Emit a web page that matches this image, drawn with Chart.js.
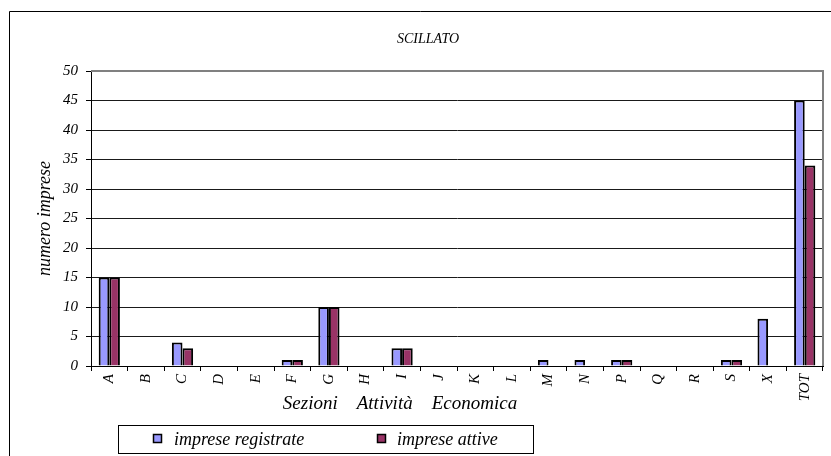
<!DOCTYPE html>
<html>
<head>
<meta charset="utf-8">
<style>
  html, body { margin: 0; padding: 0; background: #fff; }
  canvas { display: block; }
</style>
<script src="https://cdn.jsdelivr.net/npm/chart.js@4/dist/chart.umd.min.js"></script>
</head>
<body>
<canvas id="c" width="831" height="456"></canvas>
<script>
const chartTitle = 'SCILLATO';
const xAxisTitle = 'Sezioni    Attività    Economica';
const yAxisTitle = 'numero imprese';
const categories = ['A','B','C','D','E','F','G','H','I','J','K','L','M','N','P','Q','R','S','X','TOT'];
const seriesNames = ['imprese registrate', 'imprese attive'];
const registrate = [15,0,4,0,0,1,10,0,3,0,0,0,1,1,1,0,0,1,8,45];
const attive     = [15,0,3,0,0,1,10,0,3,0,0,0,0,0,1,0,0,1,0,34];
const yTicks = [0,5,10,15,20,25,30,35,40,45,50];
const colors = ['#9999FF', '#993366'];

const FONT = '"Liberation Serif", "Times New Roman", serif';

const decor = {
  id: 'decor',
  beforeDraw(chart) {
    const ctx = chart.ctx;
    ctx.save();
    ctx.fillStyle = '#fff';
    ctx.fillRect(0, 0, chart.width, chart.height);
    ctx.strokeStyle = '#000';
    ctx.lineWidth = 1;
    ctx.beginPath();
    ctx.moveTo(9.5, 456);
    ctx.lineTo(9.5, 11.5);
    ctx.lineTo(831, 11.5);
    ctx.stroke();
    ctx.restore();
  },
  afterDraw(chart) {
    const ctx = chart.ctx;
    const a = chart.chartArea;
    ctx.save();
    // plot area top/right border
    ctx.strokeStyle = '#808080';
    ctx.lineWidth = 2;
    ctx.beginPath();
    ctx.moveTo(a.left, a.top);
    ctx.lineTo(a.right, a.top);
    ctx.lineTo(a.right, a.bottom);
    ctx.stroke();
    // title
    ctx.fillStyle = '#000';
    ctx.font = 'italic 14px ' + FONT;
    ctx.textAlign = 'center';
    ctx.textBaseline = 'middle';
    ctx.fillText(chartTitle, 428, 39);
    // x axis title
    ctx.font = 'italic 19px ' + FONT;
    ctx.fillText(xAxisTitle, 400, 404);
    // legend
    ctx.fillStyle = '#fff';
    ctx.fillRect(118.5, 425.5, 415, 28);
    ctx.strokeStyle = '#000';
    ctx.lineWidth = 1;
    ctx.strokeRect(118.5, 425.5, 415, 28);
    const items = chart.data.datasets;
    const boxX = [153, 377];
    const textX = [174, 397];
    ctx.font = 'italic 18px ' + FONT;
    ctx.textAlign = 'left';
    items.forEach((ds, i) => {
      ctx.fillStyle = ds.backgroundColor;
      ctx.fillRect(boxX[i] + 0.5, 434.5, 8, 8);
      ctx.strokeStyle = '#000';
      ctx.lineWidth = 1.5;
      ctx.strokeRect(boxX[i] + 0.5, 434.5, 8, 8);
      ctx.fillStyle = '#000';
      ctx.fillText(ds.label, textX[i], 440);
    });
    ctx.restore();
  }
};

new Chart(document.getElementById('c'), {
  type: 'bar',
  data: {
    labels: categories,
    datasets: [
      { label: seriesNames[0], data: registrate, backgroundColor: colors[0], borderColor: '#000', borderWidth: 2 },
      { label: seriesNames[1], data: attive, backgroundColor: colors[1], borderColor: '#000', borderWidth: 2 }
    ]
  },
  options: {
    responsive: false,
    devicePixelRatio: 1,
    animation: false,
    categoryPercentage: 0.58,
    barPercentage: 1,
    layout: { padding: { top: 71, right: 8, left: 0, bottom: 0 } },
    plugins: {
      legend: { display: false },
      title: { display: false },
      tooltip: { enabled: false }
    },
    scales: {
      x: {
        afterFit(scale) { scale.height = 90; },
        grid: { offset: true, drawOnChartArea: false, color: '#000', tickLength: 5, tickColor: '#000' },
        border: { color: '#000', width: 1 },
        ticks: {
          color: '#000',
          font: { family: FONT, style: 'italic', size: 15 },
          minRotation: 90, maxRotation: 90, padding: 3, autoSkip: false
        }
      },
      y: {
        min: 0, max: 50,
        afterFit(scale) { scale.width = 91; },
        afterBuildTicks(scale) { scale.ticks = yTicks.map(v => ({ value: v })); },
        grid: { color: '#1a1a1a', lineWidth: 1, tickLength: 5, tickColor: '#000' },
        border: { color: '#000', width: 1 },
        ticks: {
          color: '#000',
          font: { family: FONT, style: 'italic', size: 15 },
          padding: 8
        },
        title: {
          display: true,
          text: yAxisTitle,
          color: '#000',
          font: { family: FONT, style: 'italic', size: 18 },
          padding: { top: 34, bottom: 0 }
        }
      }
    }
  },
  plugins: [decor]
});
</script>
</body>
</html>
